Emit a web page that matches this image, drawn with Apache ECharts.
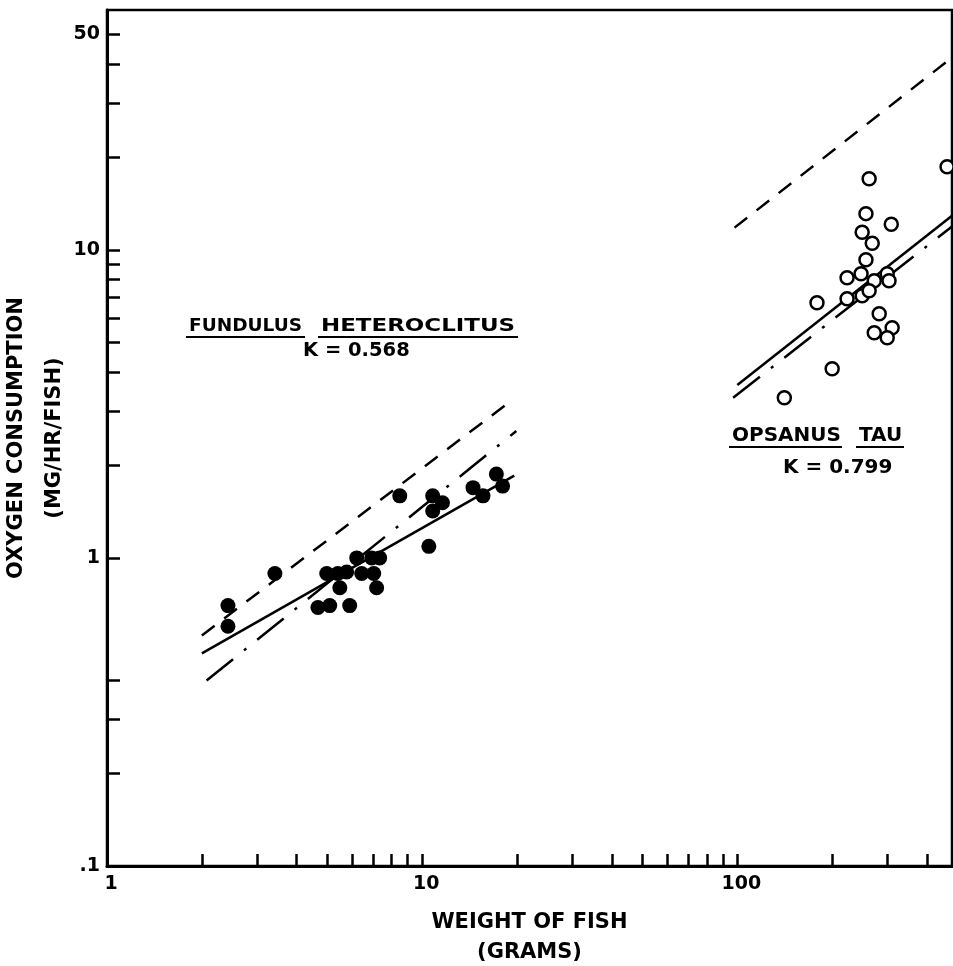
<!DOCTYPE html>
<html>
<head>
<meta charset="utf-8">
<title>Oxygen consumption vs weight of fish</title>
<script src="https://cdn.jsdelivr.net/npm/echarts@6/dist/echarts.min.js"></script>
<style>
  html, body { margin: 0; padding: 0; background: #fff; }
  #chart { width: 953px; height: 966px; }
</style>
</head>
<body>
<div id="chart"></div>
<script>
// tick positions and labels
const xTicks = [1, 2, 3, 4, 5, 6, 7, 8, 9, 10, 20, 30, 40, 50, 60, 70, 80, 90, 100, 200, 300, 400]
const xLabels = [1, 10, 100]
const yTicks = [0.2, 0.3, 0.4, 1, 2, 3, 4, 5, 6, 7, 8, 9, 10, 20, 30, 40, 50]
const yLabels = [0.1, 1, 10, 50]

// Fundulus heteroclitus (filled dots) [weight g, mg/hr/fish]
const fundulusPts = [
  [2.42, 0.70], [2.42, 0.60], [3.41, 0.89], [4.67, 0.69], [5.09, 0.70], [5.89, 0.70],
  [4.98, 0.89], [5.40, 0.89], [5.76, 0.90], [6.20, 1.0], [6.92, 1.0], [7.33, 1.0],
  [6.43, 0.89], [7.02, 0.89], [5.48, 0.80], [7.17, 0.80], [8.49, 1.59], [10.5, 1.09],
  [10.8, 1.59], [11.6, 1.51], [10.8, 1.42], [14.5, 1.69], [15.6, 1.59], [17.2, 1.87], [18.0, 1.71]
]

// Opsanus tau (open circles)
const opsanusPts = [
  [262, 17.0], [463, 18.6], [256, 13.1], [308, 12.1], [249, 11.4], [268, 10.5], [256, 9.28],
  [223, 8.11], [247, 8.36], [272, 7.93], [299, 8.36], [303, 7.93], [223, 6.93], [249, 7.09],
  [262, 7.36], [179, 6.73], [282, 6.20], [310, 5.58], [272, 5.38], [299, 5.18], [200, 4.11], [141, 3.31]
]

// fitted lines (end points)
const fundulusSolid = [[2, 0.49], [19.6, 1.85]]
const fundulusDashed = [[2, 0.56], [19.5, 3.28]]
const fundulusDashDot = [[2.07, 0.40], [19.9, 2.58]]
const opsanusSolid = [[100, 3.64], [480, 12.9]]
const opsanusDashed = [[98, 11.8], [472, 41.5]]
const opsanusDashDot = [[97, 3.31], [480, 11.9]]

const FONT = 'DejaVu Sans'
const chart = echarts.init(document.getElementById('chart'))

const lineSeries = (data, type) => ({
  type: 'line',
  data: data,
  showSymbol: false,
  symbol: 'none',
  silent: true,
  lineStyle: { color: '#000', width: 2.5, type: type, cap: 'butt', opacity: 1 },
  z: 1
})

const annot = (x, y, text, size, sx) => ({
  type: 'text',
  left: x,
  top: y,
  scaleX: sx || 1,
  style: { text: text, font: 'bold ' + size + 'px "' + FONT + '"', fill: '#000' }
})

const uline = (x1, x2, y) => ({
  type: 'line',
  shape: { x1: x1, y1: y, x2: x2, y2: y },
  style: { stroke: '#000', lineWidth: 2 }
})

const option = {
  animation: false,
  backgroundColor: '#fff',
  grid: {
    left: 107, right: 1, top: 10, bottom: 100,
    outerBoundsMode: 'none',
    containLabel: false,
    show: true, borderColor: '#000', borderWidth: 2.5
  },
  xAxis: {
    type: 'log',
    logBase: 10,
    min: 1,
    max: 480,
    name: 'WEIGHT OF FISH\n(GRAMS)',
    nameLocation: 'middle',
    nameGap: 42,
    nameMoveOverlap: false,
    nameTextStyle: { fontFamily: FONT, fontWeight: 'bold', fontSize: 21, color: '#000', lineHeight: 30 },
    axisLine: { lineStyle: { color: '#000', width: 3 } },
    axisTick: { inside: true, length: 12, customValues: xTicks, lineStyle: { color: '#000', width: 2.5 } },
    axisLabel: {
      customValues: xLabels,
      margin: 9,
      padding: [0, 0, 0, 8],
      fontFamily: FONT, fontWeight: 'bold', fontSize: 19, color: '#000'
    },
    splitLine: { show: false },
    minorTick: { show: false }
  },
  yAxis: {
    type: 'log',
    logBase: 10,
    min: 0.1,
    max: 60,
    name: 'OXYGEN CONSUMPTION\n(MG/HR/FISH)',
    nameLocation: 'middle',
    nameGap: 33,
    nameRotate: 90,
    nameMoveOverlap: false,
    nameTextStyle: { fontFamily: FONT, fontWeight: 'bold', fontSize: 21, color: '#000', lineHeight: 38 },
    axisLine: { lineStyle: { color: '#000', width: 3 } },
    axisTick: { inside: true, length: 13, customValues: yTicks, lineStyle: { color: '#000', width: 2.5 } },
    axisLabel: {
      customValues: yLabels,
      margin: 7,
      fontFamily: FONT, fontWeight: 'bold', fontSize: 19, color: '#000',
      formatter: v => (v === 0.1 ? '.1' : String(v))
    },
    splitLine: { show: false }
  },
  series: [
    lineSeries(fundulusSolid, 'solid'),
    lineSeries(fundulusDashed, [16, 12]),
    lineSeries(fundulusDashDot, [34, 14, 3, 14]),
    lineSeries(opsanusSolid, 'solid'),
    lineSeries(opsanusDashed, [16, 12]),
    lineSeries(opsanusDashDot, [34, 14, 3, 14]),
    {
      type: 'scatter',
      data: fundulusPts,
      symbol: 'circle',
      symbolSize: 15,
      itemStyle: { color: '#000', opacity: 1 },
      z: 3
    },
    {
      type: 'scatter',
      data: opsanusPts,
      symbol: 'circle',
      symbolSize: 13,
      itemStyle: { color: '#fff', borderColor: '#000', borderWidth: 2.5, opacity: 1 },
      z: 3
    }
  ],
  graphic: [
    annot(189, 317, 'FUNDULUS', 18.5),
    uline(186, 305, 337),
    annot(321, 317, 'HETEROCLITUS', 18.5, 1.24),
    uline(318, 518, 337),
    annot(303, 341, 'K = 0.568', 19.5),
    annot(732, 426, 'OPSANUS', 20),
    uline(729, 842, 447),
    annot(859, 426, 'TAU', 20),
    uline(856, 904, 447),
    annot(783, 458, 'K = 0.799', 20)
  ]
}

chart.setOption(option)
</script>
</body>
</html>
